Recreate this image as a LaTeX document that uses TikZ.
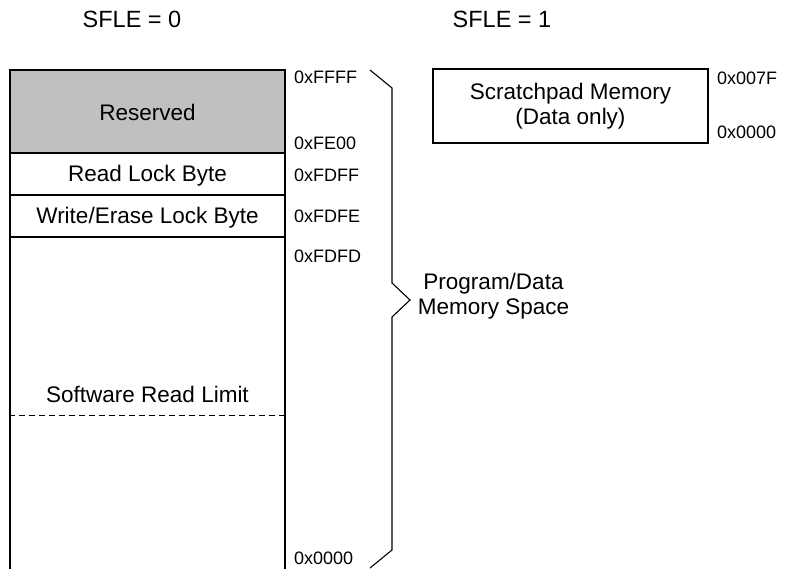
\documentclass[tikz,border=0pt]{standalone}
\usepackage{fontspec}
\setmainfont{Liberation Sans}
\usepackage{tikz}
\usetikzlibrary{positioning,calc}
\definecolor{resgray}{RGB}{192,192,192}

\begin{document}
\begin{tikzpicture}[
    x=1pt, y=-1pt,
    memblock/.style={rectangle, draw, line width=1.1pt, minimum width=275pt, inner sep=0pt, font=\fontsize{22.5}{25}\selectfont},
    addr/.style={anchor=west, inner sep=0pt, font=\fontsize{18}{20}\selectfont},
    title/.style={font=\fontsize{23.5}{26}\selectfont},
    note/.style={align=center, inner sep=0pt, font=\fontsize{22.5}{25}\selectfont}
]
    \useasboundingbox (0,0) rectangle (787,568);

    \node[title] (sfle0) at (132,19) {SFLE = 0};
    \node[title] (sfle1) at (502,19) {SFLE = 1};

    % left memory map
    \node[memblock, fill=resgray, minimum height=83pt] (res) at (147.5,111.5) {};
    \node[memblock, minimum height=42pt] (rlock) at (147.5,174) {};
    \node[memblock, minimum height=42pt] (wlock) at (147.5,216) {};
    \node[memblock, minimum height=363pt] (prog) at (147.5,418.5) {};
    \node[note] (restext) at (147.5,112) {Reserved};
    \node[note] (rltext) at (147.5,175.5) {Read Lock Byte};
    \node[note] (wltext) at (147.5,217.5) {Write/Erase Lock Byte};
    \node[note] (srl) at (147.5,394) {Software Read Limit};
    \draw[line width=0.9pt, dash pattern=on 6pt off 4pt] (prog.west |- 0,415) -- (prog.east |- 0,415);

    \node[addr] (affff) at (294,77) {0xFFFF};
    \node[addr] (afe00) at (294,143) {0xFE00};
    \node[addr] (afdff) at (294,175) {0xFDFF};
    \node[addr] (afdfe) at (294,216) {0xFDFE};
    \node[addr] (afdfd) at (294,256) {0xFDFD};
    \node[addr] (a0000) at (294,558) {0x0000};

    % brace
    \draw[line width=1.1pt] (370,70) -- (392,88) -- (392,283) -- (410,300) -- (392,317) -- (392,550) -- (370,568);
    \node[note] (pdspace) at (493.5,296) {Program/Data\\Memory Space};

    % right memory map
    \node[memblock, minimum height=74pt] (scratch) at (570.5,106) {};
    \node[note] (scrtext) at (scratch.center) {Scratchpad Memory\\(Data only)};
    \node[addr] (s007f) at (717,78) {0x007F};
    \node[addr] (s0000) at (717,132) {0x0000};
\end{tikzpicture}
\end{document}
